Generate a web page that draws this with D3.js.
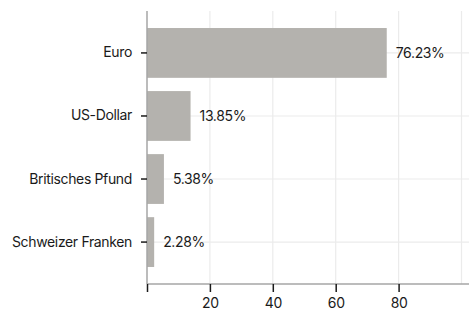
<!DOCTYPE html>
<html>
<head>
<meta charset="utf-8">
<script src="https://cdn.jsdelivr.net/npm/d3@7"></script>
<style>
  body { margin: 0; background: #fff; }
  text { font-family: Inter, sans-serif; fill: #1a1a1a; letter-spacing: -0.35px; }
</style>
</head>
<body>
<svg id="chart"></svg>
<script>
// Währungen und Anteile
const currencies = ['Euro', 'US-Dollar', 'Britisches Pfund', 'Schweizer Franken'];
const shares = [76.23, 13.85, 5.38, 2.28];
const xTicks = [0, 20, 40, 60, 80];
const xGrid = [20, 40, 60, 80, 100];

const width = 469;
const height = 314;
const margin = { top: 11, right: 0, bottom: 30, left: 147 };
const innerH = height - margin.top - margin.bottom;

const svg = d3.select('#chart')
    .attr('width', width)
    .attr('height', height);

const x = d3.scaleLinear()
    .domain([0, 100])
    .range([margin.left, 461.5]);

const y = d3.scaleBand()
    .domain(currencies)
    .range([margin.top, margin.top + innerH])
    .paddingInner(0.21)
    .paddingOuter(0.27);

// Gitterlinien
svg.append('g')
    .selectAll('line')
    .data(xGrid)
    .enter().append('line')
    .attr('x1', d => x(d)).attr('x2', d => x(d))
    .attr('y1', margin.top).attr('y2', margin.top + innerH)
    .attr('stroke', '#ebebeb')
    .attr('stroke-width', 1.2);

svg.append('g')
    .selectAll('line')
    .data(currencies)
    .enter().append('line')
    .attr('x1', margin.left).attr('x2', width)
    .attr('y1', d => y(d) + y.bandwidth() / 2)
    .attr('y2', d => y(d) + y.bandwidth() / 2)
    .attr('stroke', '#ebebeb')
    .attr('stroke-width', 1.2);

// Balken
svg.append('g')
    .selectAll('rect')
    .data(shares)
    .enter().append('rect')
    .attr('x', x(0))
    .attr('y', (d, i) => y(currencies[i]))
    .attr('width', d => x(d) - x(0))
    .attr('height', y.bandwidth())
    .attr('fill', '#b4b2ae');

svg.append('g')
    .selectAll('text')
    .data(shares)
    .enter().append('text')
    .attr('x', d => x(d) + 9)
    .attr('y', (d, i) => y(currencies[i]) + y.bandwidth() / 2)
    .attr('dy', '0.35em')
    .style('font-size', '14px')
    .text(d => d.toFixed(2) + '%');

// Achsen
const yAxis = svg.append('g')
    .attr('transform', `translate(${margin.left},0)`)
    .call(d3.axisLeft(y).tickSize(6).tickPadding(9));
yAxis.select('.domain').attr('stroke', '#a6a6a6').attr('stroke-width', 1.5)
    .attr('d', `M0,${margin.top}V${margin.top + innerH}`);
yAxis.selectAll('.tick line').attr('stroke', '#1a1a1a').attr('stroke-width', 1.5);
yAxis.selectAll('.tick text').style('font-size', '14px').style('font-family', 'Inter, sans-serif').attr('fill', '#1a1a1a');

const xAxis = svg.append('g')
    .attr('transform', `translate(0,${margin.top + innerH})`)
    .call(d3.axisBottom(x).tickValues(xTicks).tickSize(8).tickPadding(6)
        .tickFormat(d => d === 0 ? '' : d));
xAxis.select('.domain').attr('stroke', '#a6a6a6').attr('stroke-width', 1.5)
    .attr('d', `M${margin.left},0H${width}`);
xAxis.selectAll('.tick line').attr('stroke', '#1a1a1a').attr('stroke-width', 1.5);
xAxis.selectAll('.tick text').style('font-size', '14px').style('font-family', 'Inter, sans-serif').attr('fill', '#1a1a1a');
</script>
</body>
</html>
